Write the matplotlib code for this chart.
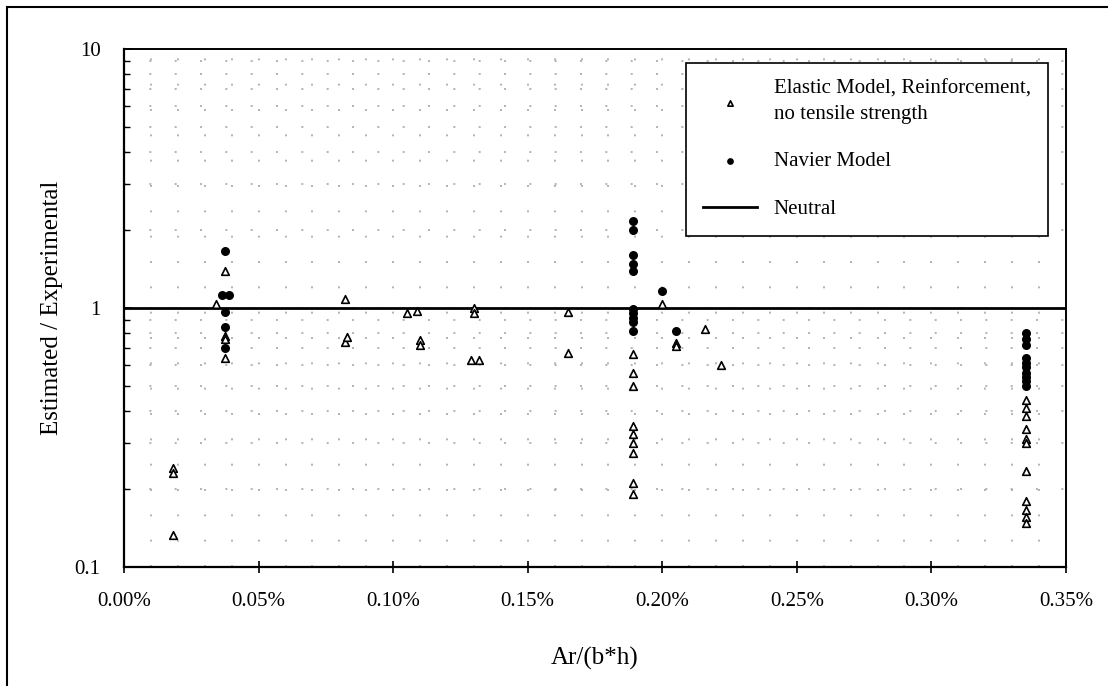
import numpy as np
import matplotlib
matplotlib.use('Agg')
import matplotlib.pyplot as plt
from matplotlib.ticker import PercentFormatter, MultipleLocator, LogLocator, NullFormatter, FixedLocator
from matplotlib.lines import Line2D

plt.rcParams['font.family'] = ['Liberation Serif', 'DejaVu Serif']

# Elastic model (open triangles): Ar/(b*h) as a fraction, estimated / experimental
elastic_x = [0.00018, 0.00018, 0.00018,
             0.00034, 0.000375, 0.000375, 0.000375, 0.000375,
             0.00082, 0.00082, 0.00083,
             0.00105, 0.00109, 0.0011, 0.0011,
             0.00129, 0.00132, 0.0013, 0.0013,
             0.00165, 0.00165,
             0.00189, 0.00189, 0.00189, 0.00189, 0.00189, 0.00189, 0.00189, 0.00189, 0.00189,
             0.0020, 0.00205, 0.00205, 0.00216, 0.00222,
             0.00335, 0.00335, 0.00335, 0.00335, 0.00335, 0.00335,
             0.00335, 0.00335, 0.00335, 0.00335, 0.00335]
elastic_y = [0.24, 0.23, 0.133,
             1.03, 1.39, 0.78, 0.76, 0.64,
             1.08, 0.74, 0.77,
             0.95, 0.97, 0.75, 0.72,
             0.63, 0.63, 1.0, 0.95,
             0.96, 0.67,
             0.66, 0.56, 0.50, 0.35, 0.325, 0.30, 0.275, 0.21, 0.19,
             1.03, 0.73, 0.71, 0.83, 0.60,
             0.44, 0.41, 0.38, 0.34, 0.31, 0.30,
             0.235, 0.18, 0.165, 0.155, 0.147]

# Navier model (filled circles)
navier_x = [0.000365, 0.00039, 0.000375, 0.000375, 0.000375, 0.000375,
            0.00189, 0.00189, 0.00189, 0.00189, 0.00189,
            0.00189, 0.00189, 0.00189, 0.00189, 0.00189,
            0.0020, 0.00205,
            0.00335, 0.00335, 0.00335, 0.00335, 0.00335,
            0.00335, 0.00335, 0.00335, 0.00335, 0.00335]
navier_y = [1.12, 1.12, 1.66, 0.96, 0.84, 0.70,
            2.17, 2.0, 1.6, 1.48, 1.38,
            0.99, 0.95, 0.91, 0.88, 0.81,
            1.16, 0.81,
            0.80, 0.76, 0.72, 0.64, 0.61,
            0.59, 0.56, 0.54, 0.52, 0.50]

neutral_x = [0.0, 0.0035]
neutral_y = [1.0, 1.0]

fig = plt.figure(figsize=(11.08, 6.86), dpi=100)
ax = fig.add_axes([0.112, 0.174, 0.850, 0.755])

ax.set_yscale('log')
ax.set_xlim(0, 0.0035)
ax.set_ylim(0.1, 10)

# sparse dotted grid
ax.xaxis.set_minor_locator(MultipleLocator(0.0001))
ax.yaxis.set_minor_locator(LogLocator(base=10, subs=np.arange(2, 10)))
ax.yaxis.set_minor_formatter(NullFormatter())
ax.grid(True, which='both', color='#a8a8a8', linestyle=(0, (1.2, 14)), linewidth=1.2)

ax.plot(neutral_x, neutral_y, color='black', linewidth=2, label='Neutral', zorder=3)
ax.scatter(elastic_x, elastic_y, marker='^', facecolors='white', edgecolors='black',
           s=30, linewidths=1.2, label='Elastic Model, Reinforcement,\nno tensile strength', zorder=4)
ax.scatter(navier_x, navier_y, marker='o', color='black', s=30,
           label='Navier Model', zorder=5)

ax.xaxis.set_major_locator(MultipleLocator(0.0005))
ax.xaxis.set_major_formatter(PercentFormatter(xmax=1, decimals=2))
ax.yaxis.set_major_locator(FixedLocator([0.1, 1, 10]))
ax.set_yticklabels(['0.1', '1', '10'])

ax.tick_params(axis='x', which='major', direction='inout', length=8, width=1.2, labelsize=15, pad=14)
ax.tick_params(axis='x', which='minor', length=0)
ax.tick_params(axis='y', which='major', direction='in', length=6, width=1.2, labelsize=15, pad=17)
ax.tick_params(axis='y', which='minor', direction='in', length=4, width=1)

for side in ['left', 'bottom']:
    ax.spines[side].set_linewidth(1.6)
for side in ['top', 'right']:
    ax.spines[side].set_linewidth(1.4)

ax.set_xlabel('Ar/(b*h)', fontsize=18, labelpad=26)
ax.set_ylabel('Estimated / Experimental', fontsize=18, labelpad=8)

handles, labels = ax.get_legend_handles_labels()
order = [1, 2, 0]
leg = ax.legend([handles[i] for i in order], [labels[i] for i in order],
                loc='upper left', bbox_to_anchor=(0.597, 0.973), borderaxespad=0,
                fontsize=15, frameon=True, fancybox=False, edgecolor='black', framealpha=1,
                handlelength=2.6, handletextpad=0.8, labelspacing=1.35,
                borderpad=0.8, markerscale=0.7)
for t in leg.get_texts():
    t.set_linespacing(1.45)
leg.get_frame().set_linewidth(1.2)

# outer border of the original figure (top and left edges)
fig.add_artist(Line2D([0.007, 1.0], [0.99, 0.99], color='black', linewidth=1.5))
fig.add_artist(Line2D([0.006, 0.006], [0.0, 0.99], color='black', linewidth=1.5))

plt.savefig('out.png', dpi=100)
